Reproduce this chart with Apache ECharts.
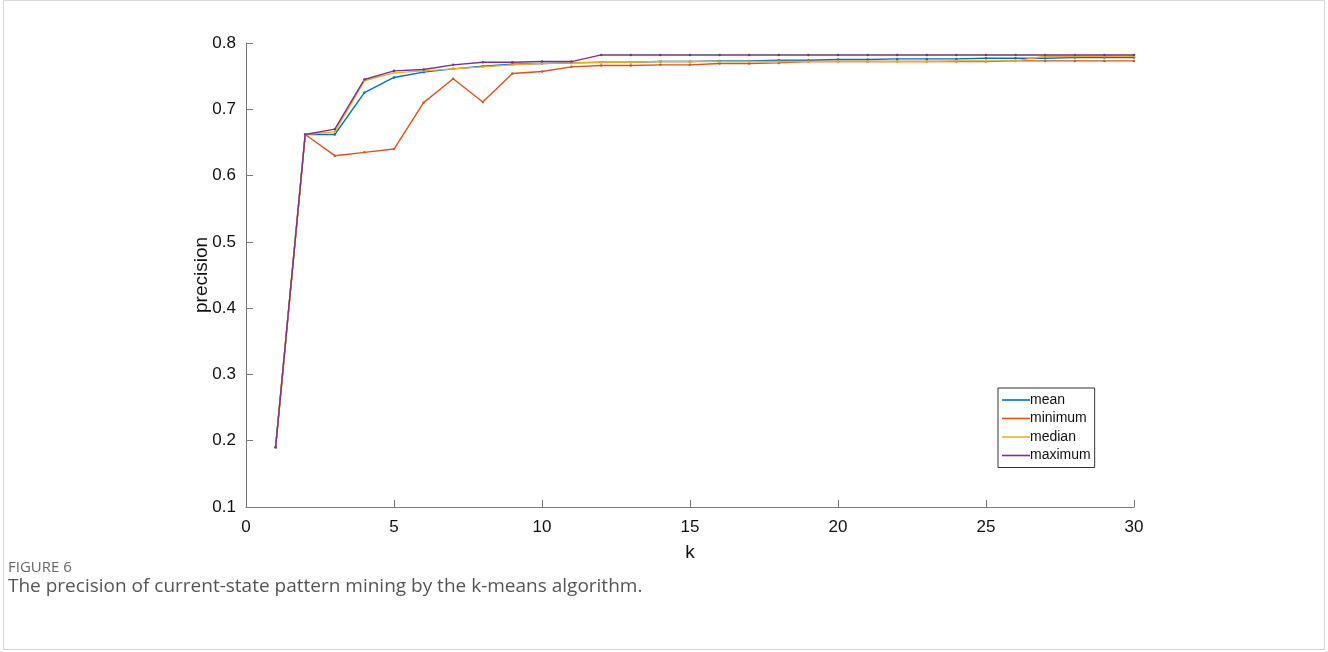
<!DOCTYPE html>
<html>
<head>
<meta charset="utf-8">
<script src="https://cdn.jsdelivr.net/npm/echarts@6/dist/echarts.min.js"></script>
<style>
  html, body { margin: 0; padding: 0; background: #fff; }
  #frame { position: absolute; left: 3px; top: 0; width: 1322px; height: 650px; border: 1px solid #d6d6d6; box-sizing: border-box; }
  #chart { position: absolute; left: 0; top: 0; width: 1328px; height: 652px; }
</style>
</head>
<body>
<div id="frame"></div>
<div id="chart"></div>
<script>
// k = 1 .. 30
const kValues = Array.from({ length: 30 }, (_, i) => i + 1);

const meanPrecision = [0.190, 0.662, 0.662, 0.725, 0.748, 0.756, 0.761, 0.765, 0.768, 0.769,
                       0.770, 0.771, 0.771, 0.772, 0.772, 0.773, 0.773, 0.774, 0.774, 0.775,
                       0.775, 0.776, 0.776, 0.776, 0.777, 0.777, 0.777, 0.778, 0.778, 0.778];
const minPrecision  = [0.190, 0.662, 0.630, 0.635, 0.640, 0.710, 0.746, 0.711, 0.754, 0.757,
                       0.764, 0.766, 0.766, 0.767, 0.767, 0.769, 0.769, 0.770, 0.772, 0.772,
                       0.772, 0.772, 0.772, 0.772, 0.772, 0.773, 0.773, 0.773, 0.773, 0.773];
const medianPrecision = [0.190, 0.662, 0.666, 0.743, 0.755, 0.758, 0.761, 0.764, 0.767, 0.769,
                       0.770, 0.771, 0.771, 0.772, 0.772, 0.772, 0.772, 0.772, 0.772, 0.772,
                       0.772, 0.772, 0.772, 0.773, 0.773, 0.773, 0.780, 0.780, 0.780, 0.780];
const maxPrecision  = [0.190, 0.662, 0.670, 0.745, 0.758, 0.760, 0.767, 0.771, 0.771, 0.772,
                       0.772, 0.782, 0.782, 0.782, 0.782, 0.782, 0.782, 0.782, 0.782, 0.782,
                       0.782, 0.782, 0.782, 0.782, 0.782, 0.782, 0.782, 0.782, 0.782, 0.782];

const seriesNames  = ['mean', 'minimum', 'median', 'maximum'];
const seriesColors = ['#0072BD', '#D95319', '#EDB120', '#7E2F8E'];
const seriesData   = [meanPrecision, minPrecision, medianPrecision, maxPrecision];

const captionLabel = 'FIGURE 6';
const captionText  = 'The precision of current-state pattern mining by the k-means algorithm.';

const axisFont = 'Liberation Sans, Arial, sans-serif';
const axisGray = '#7a7a7a';

const chart = echarts.init(document.getElementById('chart'), null, { renderer: 'canvas' });

chart.setOption({
  animation: false,
  backgroundColor: 'transparent',
  title: [
    { text: captionLabel, left: 3, top: 555,
      textStyle: { fontFamily: 'Open Sans, sans-serif', fontSize: 15, fontWeight: 'normal', color: '#666' } },
    { text: captionText, left: 3, top: 572,
      textStyle: { fontFamily: 'Open Sans, sans-serif', fontSize: 19, fontWeight: 'normal', color: '#555' } }
  ],
  grid: { left: 246, right: 194, top: 43, bottom: 145, containLabel: false },
  legend: {
    data: seriesNames.map((name, i) => ({ name, itemStyle: { color: seriesColors[i] } })),
    orient: 'vertical',
    left: 998, top: 388,
    padding: [5, 4, 5, 4],
    itemGap: 4.5,
    itemWidth: 28, itemHeight: 14,
    borderColor: '#333', borderWidth: 1,
    backgroundColor: '#fff',
    textStyle: { fontFamily: axisFont, fontSize: 14, color: '#111', padding: [0, 0, 0, -5] },
    icon: 'path://M0,6.2L28,6.2L28,7.8L0,7.8Z'
  },
  xAxis: {
    type: 'value', min: 0, max: 30, interval: 5,
    name: 'k', nameLocation: 'middle', nameGap: 36,
    nameTextStyle: { fontFamily: axisFont, fontSize: 19, color: '#111' },
    axisLine: { show: true, lineStyle: { color: axisGray, width: 1 } },
    axisTick: { show: true, inside: true, length: 7, lineStyle: { color: axisGray } },
    axisLabel: { fontFamily: axisFont, fontSize: 17, color: '#111', margin: 12 },
    splitLine: { show: false }
  },
  yAxis: {
    type: 'value', min: 0.1, max: 0.8, interval: 0.1,
    name: 'precision', nameLocation: 'middle', nameGap: 35, nameRotate: 90,
    nameMoveOverlap: false,
    nameTextStyle: { fontFamily: axisFont, fontSize: 19, color: '#111' },
    axisLine: { show: true, lineStyle: { color: axisGray, width: 1 } },
    axisTick: { show: true, inside: true, length: 7, lineStyle: { color: axisGray } },
    axisLabel: { fontFamily: axisFont, fontSize: 17, color: '#111', margin: 10,
                 formatter: v => v.toFixed(1) },
    splitLine: { show: false }
  },
  series: seriesNames.map((name, i) => ({
    name,
    type: 'line',
    data: kValues.map((k, j) => [k, seriesData[i][j]]),
    color: seriesColors[i],
    lineStyle: { width: 1.4, color: seriesColors[i] },
    symbol: 'circle', symbolSize: 2.5, showSymbol: true,
    itemStyle: { color: seriesColors[i] },
    emphasis: { disabled: true }
  }))
});
</script>
</body>
</html>
